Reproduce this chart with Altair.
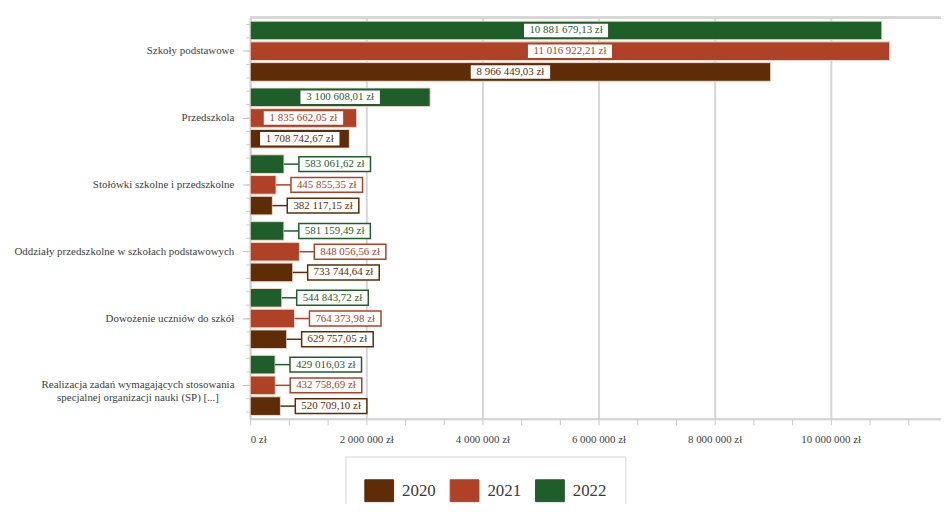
import altair as alt
import pandas as pd

categories = [
    "Szkoły podstawowe",
    "Przedszkola",
    "Stołówki szkolne i przedszkolne",
    "Oddziały przedszkolne w szkołach podstawowych",
    "Dowożenie uczniów do szkół",
    "Realizacja zadań wymagających stosowania specjalnej organizacji nauki (SP) [...]",
]
years = ["2020", "2021", "2022"]
v2020 = [8966449.03, 1708742.67, 382117.15, 733744.64, 629757.05, 520709.10]
v2021 = [11016922.21, 1835662.05, 445855.35, 848056.56, 764373.98, 432758.69]
v2022 = [10881679.13, 3100608.01, 583061.62, 581159.49, 544843.72, 429016.03]
colors = ["#5e2c07", "#ae4126", "#1f5e2a"]

# how each category name is broken into lines on the axis
cat_text = [
    "Szkoły podstawowe",
    "Przedszkola",
    "Stołówki szkolne i przedszkolne",
    "Oddziały przedszkolne w szkołach podstawowych",
    "Dowożenie uczniów do szkół",
    "Realizacja zadań wymagających stosowania\nspecjalnej organizacji nauki (SP) [...]",
]

SERIF = "'Liberation Serif', 'DejaVu Serif', serif"


def fmt(v):
    return f"{v:,.2f}".replace(",", " ").replace(".", ",") + " zł"


rows = []
for yr, vals in zip(years, [v2020, v2021, v2022]):
    for c, v in zip(categories, vals):
        rows.append({"cat": c, "year": yr, "value": v, "label": fmt(v)})
df = pd.DataFrame(rows)

catdf = pd.DataFrame({"cat": categories, "text": cat_text,
                      "multi": [("\n" in t) for t in cat_text]})

# minor tick slots on the category axis: 5 per category
minor = pd.DataFrame({"slot": [k + 0.5 for k in range(5 * len(categories))]})

W, H = 696, 404
DMAX = 11900000
U = DMAX / W  # data units per pixel

y = alt.Y(
    "cat:N",
    sort=categories,
    title=None,
    scale=alt.Scale(paddingInner=0.1, paddingOuter=0.05),
    axis=alt.Axis(
        labels=False,
        tickSize=8,
        tickColor="#c8c8c8",
        domainColor="#d0d0d0",
        domainWidth=2,
    ),
)
yoff = alt.YOffset("year:N", sort=["2022", "2021", "2020"], scale=alt.Scale(paddingInner=0.1))
cscale = alt.Scale(domain=years, range=colors)

xticks = [i * 2000000 / 3 for i in range(18)]
major = "abs(datum.value/2000000 - round(datum.value/2000000)) < 0.01"
x = alt.X(
    "value:Q",
    title=None,
    scale=alt.Scale(domain=[0, DMAX], nice=False, zero=True),
    axis=alt.Axis(
        values=xticks,
        labelExpr=f"{major} ? (datum.value == 0 ? '0 zł' : format(datum.value/1000000, 'd') + ' 000 000 zł') : ''",
        labelFont=SERIF,
        labelFontSize=11,
        labelColor="#404040",
        labelPadding=9,
        tickSize=6,
        tickColor="#c8c8c8",
        domainColor="#d0d0d0",
        domainWidth=2,
        gridColor="#d6d6d6",
        gridWidth=2,
        gridOpacity={"condition": {"test": major, "value": 1}, "value": 0},
    ),
)

base = alt.Chart(df).transform_calculate(
    inside="datum.value > 1500000",
    bw=f"(4.7 * length(datum.label) + 11) * {U}",
).transform_calculate(
    cx=f"datum.inside ? datum.value / 2 : datum.value + 15 * {U} + datum.bw / 2",
).transform_calculate(
    x1="datum.cx - datum.bw / 2",
    x2="datum.cx + datum.bw / 2",
)

bars = base.mark_bar(stroke="#f2dcd2", strokeWidth=1).encode(
    x=x,
    y=y,
    yOffset=yoff,
    color=alt.Color(
        "year:N",
        scale=cscale,
        legend=alt.Legend(
            title=None,
            orient="none",
            legendX=96,
            legendY=442,
            direction="horizontal",
            symbolType="M-1,-0.76H1V0.76H-1Z",
            symbolSize=841,
            symbolStrokeWidth=1,
            symbolStrokeColor="#d8c0b0",
            labelFont=SERIF,
            labelFontSize=17,
            labelColor="#3a3a3a",
            labelOffset=8,
            columnPadding=12,
            padding=19,
            strokeColor="#d6d6d6",
            fillColor="white",
        ),
    ),
)

leaders = base.transform_filter("!datum.inside").mark_rule(strokeWidth=1.5).encode(
    x="value:Q",
    x2="x1:Q",
    y=y,
    yOffset=yoff,
    color=alt.Color("year:N", scale=cscale, legend=None),
)

boxes = base.mark_bar(height=15, fill="white", strokeWidth=1.5).encode(
    x="x1:Q",
    x2="x2:Q",
    y=y,
    yOffset=yoff,
    stroke=alt.Stroke("year:N", scale=cscale, legend=None),
)

texts = base.mark_text(font=SERIF, fontSize=11).encode(
    x="cx:Q",
    y=y,
    yOffset=yoff,
    text="label:N",
    color=alt.Color("year:N", scale=cscale, legend=None),
)

ylab_single = alt.Chart(catdf).transform_filter("!datum.multi").mark_text(
    font=SERIF, fontSize=11, color="#404040", align="right", baseline="middle"
).encode(y=alt.Y("cat:N", sort=categories), x=alt.value(-16), text="text:N")

ylab_multi = alt.Chart(catdf).transform_filter("datum.multi").mark_text(
    font=SERIF, fontSize=11, color="#404040", align="center", baseline="middle",
    lineBreak="\n", lineHeight=13,
).encode(y=alt.Y("cat:N", sort=categories), x=alt.value(-113), text="text:N")

main = alt.layer(bars, leaders, boxes, texts, ylab_single, ylab_multi)

top_line = alt.Chart(df).mark_rule(color="#d6d6d6", strokeWidth=2).encode(
    x=alt.value(0), x2=alt.value(W + 10), y=alt.value(0)
)

minor_ticks = alt.Chart(minor).mark_rule(color="#c8c8c8", strokeWidth=1).encode(
    x=alt.value(-4),
    x2=alt.value(0),
    y=alt.Y("slot:Q", scale=alt.Scale(domain=[0, 5 * len(categories)], nice=False, zero=True), axis=None),
)

chart = (
    alt.layer(main, top_line, minor_ticks)
    .resolve_scale(y="independent")
    .properties(
        width=W,
        height=H,
        autosize=alt.AutoSizeParams(type="none"),
        padding={"left": 244, "top": 8, "right": 0, "bottom": 84},
    )
    .configure_view(strokeWidth=0)
)

chart.save("out.html", embed_options={"renderer": "svg", "actions": False})
